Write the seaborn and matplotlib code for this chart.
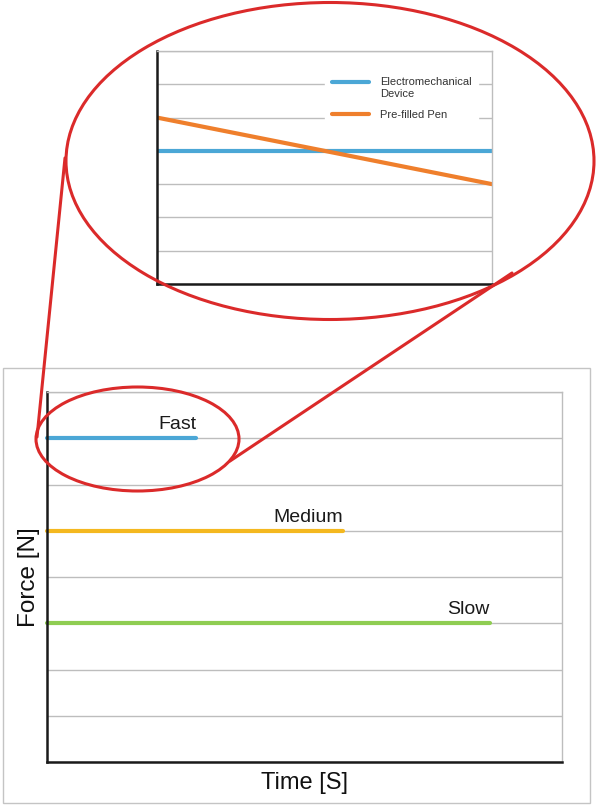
"""
plot.py

Force vs time for three injection speeds, with a zoomed inset comparing
an electromechanical device to a pre-filled pen. Saves out.png.
"""

import matplotlib
matplotlib.use("Agg")
import matplotlib.pyplot as plt
from matplotlib.patches import Ellipse, Rectangle
import numpy as np
import pandas as pd
import seaborn as sns

# ── data ──────────────────────────────────────────────────────
speeds = ["Fast", "Medium", "Slow"]
speed_end_time = [2.9, 5.75, 8.6]
speed_force = [7, 5, 3]
speed_colors = ["#4ba7d6", "#f4b81f", "#8fcd52"]

inset_series = ["Electromechanical\nDevice", "Pre-filled Pen"]
inset_time = [0, 10]
inset_force = {
    "Electromechanical\nDevice": [4, 4],
    "Pre-filled Pen": [5, 3],
}
inset_colors = ["#4ba7d6", "#ef7f2c"]

main_df = pd.DataFrame({
    "time": [t for end in speed_end_time for t in (0, end)],
    "force": [f for f in speed_force for _ in range(2)],
    "speed": [s for s in speeds for _ in range(2)],
})
inset_df = pd.DataFrame({
    "time": inset_time * len(inset_series),
    "force": [f for s in inset_series for f in inset_force[s]],
    "series": [s for s in inset_series for _ in inset_time],
})

# ── style ─────────────────────────────────────────────────────
sns.set_style("white")
plt.rcParams["font.family"] = ["Liberation Sans", "DejaVu Sans"]

W, H = 597, 806
fig = plt.figure(figsize=(W / 100, H / 100), dpi=100)


def px_axes(left, top, right, bottom):
    return fig.add_axes([left / W, 1 - bottom / H, (right - left) / W, (bottom - top) / H])


def style_axes(ax, n_grid):
    ax.set_xlim(0, 10)
    ax.set_ylim(0, n_grid)
    ax.set_yticks(range(n_grid + 1))
    ax.set_xticks([])
    ax.tick_params(left=False, bottom=False, labelleft=False, labelbottom=False)
    ax.grid(axis="y", color="#bdbdbd", lw=1.0)
    ax.set_axisbelow(True)
    for side in ("top", "right"):
        ax.spines[side].set_color("#bdbdbd")
        ax.spines[side].set_linewidth(1.0)
    for side in ("left", "bottom"):
        ax.spines[side].set_color("#1a1a1a")
        ax.spines[side].set_linewidth(1.8)


# outer frame around the main chart
fig.add_artist(Rectangle((3 / W, 1 - 803 / H), 587 / W, 435 / H, transform=fig.transFigure,
                         fill=False, edgecolor="#c4c4c4", lw=1.0))

# ── main chart ────────────────────────────────────────────────
ax = px_axes(47, 392, 562, 762)
style_axes(ax, 8)
sns.lineplot(data=main_df, x="time", y="force", hue="speed", palette=speed_colors,
             lw=3, legend=False, ax=ax, clip_on=False)
for name, end, f in zip(speeds, speed_end_time, speed_force):
    ax.text(end, f + 0.19, name, ha="right", va="baseline", fontsize=14, color="#1a1a1a")
# seaborn hides axis labels when tick labels are hidden, so show them again
ax.set_xlabel("Time [S]", fontsize=17, labelpad=7, color="#111111", visible=True)
ax.set_ylabel("Force [N]", fontsize=17.5, labelpad=5, color="#111111", visible=True)

# ── inset ─────────────────────────────────────────────────────
ax_in = px_axes(157, 51, 492, 284)
style_axes(ax_in, 7)
sns.lineplot(data=inset_df, x="time", y="force", hue="series", palette=inset_colors,
             lw=3, ax=ax_in)
ax_in.set_xlabel("")
ax_in.set_ylabel("")
leg = ax_in.legend(loc="upper right", bbox_to_anchor=(0.975, 0.94), fontsize=8,
                   frameon=True, facecolor="white", edgecolor="white", framealpha=1,
                   fancybox=False, handlelength=3.3, handletextpad=1.0,
                   labelspacing=0.97, borderpad=0.6, labelcolor="#333333")
for line in leg.get_lines():
    line.set_linewidth(3)
# align the first handle with the first line of its two-line label
first = leg.get_lines()[0]
first.set_ydata(np.asarray(first.get_ydata()) + 4.3)

# ── zoom decorations (pixel space overlay) ────────────────────
ov = fig.add_axes([0, 0, 1, 1], zorder=10)
ov.set_xlim(0, W)
ov.set_ylim(H, 0)
ov.axis("off")
ov.patch.set_alpha(0)
red = "#db2a2a"
ov.add_patch(Ellipse((330, 161), 528, 317, fill=False, edgecolor=red, lw=2.2))
ov.add_patch(Ellipse((137.5, 439), 203, 104, fill=False, edgecolor=red, lw=2.2))
ov.plot([37, 65], [437, 158], color=red, lw=2.2, solid_capstyle="round")
ov.plot([230, 512], [461, 273], color=red, lw=2.2, solid_capstyle="round")

fig.savefig("out.png", dpi=100)
